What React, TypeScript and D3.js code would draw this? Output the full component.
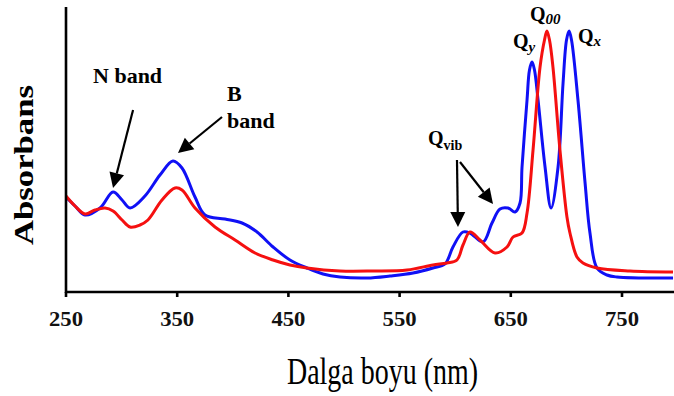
import React from "react";
import * as d3 from "d3";

// wavelength (nm), absorbance (a.u.)
const blueNm = [250, 258.1, 267.1, 280.6, 292.3, 300.4, 307.6, 321.0, 334.5, 346.2, 354.3, 366.0, 375.0, 393.0, 408.3, 421.8, 436.2, 451.4, 466.7, 481.1, 496.4, 520.7, 541.4, 562.1, 580.0, 590.8, 598.0, 607.0, 613.3, 625.0, 633.1, 640.3, 647.5, 653.8, 658.3, 660.1, 664.6, 666.8, 669.1, 671.3, 674.5, 680.8, 686.2, 692.5, 697.0, 700.1, 702.4, 704.6, 710.4, 716.8, 721.2, 727.5, 736.5, 745.5, 795.9];
const blueAbs = [0.380, 0.344, 0.308, 0.336, 0.400, 0.368, 0.336, 0.384, 0.468, 0.524, 0.496, 0.380, 0.308, 0.292, 0.276, 0.240, 0.180, 0.128, 0.096, 0.072, 0.060, 0.056, 0.064, 0.076, 0.096, 0.112, 0.180, 0.240, 0.236, 0.200, 0.276, 0.332, 0.336, 0.320, 0.356, 0.500, 0.768, 0.888, 0.920, 0.888, 0.768, 0.500, 0.336, 0.500, 0.836, 1.008, 1.044, 1.008, 0.768, 0.436, 0.236, 0.096, 0.068, 0.060, 0.056];

const redNm = [250, 258.1, 267.1, 276.1, 285.1, 292.3, 300.4, 307.6, 316.5, 323.7, 336.3, 348.0, 354.3, 366.0, 384.0, 402.0, 420.0, 436.2, 451.4, 466.7, 496.4, 526.1, 556.7, 580.0, 592.6, 601.6, 607.0, 613.3, 622.3, 635.8, 646.6, 652.0, 660.1, 664.6, 670.0, 676.3, 680.3, 682.5, 684.8, 687.9, 694.2, 700.5, 703.2, 709.5, 714.9, 727.5, 757.2, 795.9];
const redAbs = [0.384, 0.344, 0.312, 0.328, 0.336, 0.324, 0.288, 0.260, 0.268, 0.288, 0.368, 0.416, 0.408, 0.336, 0.260, 0.208, 0.156, 0.128, 0.108, 0.096, 0.084, 0.084, 0.088, 0.108, 0.116, 0.128, 0.188, 0.240, 0.208, 0.156, 0.180, 0.220, 0.236, 0.316, 0.568, 0.900, 1.008, 1.044, 1.008, 0.900, 0.568, 0.300, 0.236, 0.140, 0.116, 0.096, 0.084, 0.080];

const xTicks = [250, 350, 450, 550, 650, 750];

// annotation arrows: [x1, y1, x2, y2] in data units (tail -> head)
const arrows = [
  [310.3, 0.728, 292.3, 0.416],
  [390.3, 0.70, 350.7, 0.556],
  [601.6, 0.528, 602.5, 0.26],
  [604.3, 0.52, 634.0, 0.352],
];

const W = 674;
const H = 396;

export default function App() {
  const x = d3.scaleLinear().domain([250, 750]).range([66, 622]);
  const y = d3.scaleLinear().domain([0, 1.136]).range([292, 8]);

  const line = d3
    .line<[number, number]>()
    .x((d) => x(d[0]))
    .y((d) => y(d[1]))
    .curve(d3.curveCatmullRom.alpha(0.5));

  const blue = blueNm.map((n, i) => [n, blueAbs[i]] as [number, number]);
  const red = redNm.map((n, i) => [n, redAbs[i]] as [number, number]);

  const serif = "'Liberation Serif', 'Times New Roman', serif";

  const arrowEls = arrows.map((a, i) => {
    const x1 = x(a[0]), y1 = y(a[1]), x2 = x(a[2]), y2 = y(a[3]);
    const ang = Math.atan2(y2 - y1, x2 - x1);
    const hl = 15, hw = 7.5;
    const bx = x2 - hl * Math.cos(ang), by = y2 - hl * Math.sin(ang);
    const px = -Math.sin(ang) * hw, py = Math.cos(ang) * hw;
    return (
      <g key={i}>
        <line x1={x1} y1={y1} x2={bx} y2={by} stroke="#000" strokeWidth={2.2} />
        <polygon points={`${x2},${y2} ${bx + px},${by + py} ${bx - px},${by - py}`} fill="#000" />
      </g>
    );
  });

  return (
    <svg width={W} height={H} style={{ position: "absolute", left: 0, top: 0, background: "#fff" }} fontFamily={serif}>
      <rect width={W} height={H} fill="#fff" />
      <path d={line(blue) || ""} fill="none" stroke="#1010f5" strokeWidth={3} strokeLinejoin="round" />
      <path d={line(red) || ""} fill="none" stroke="#f51010" strokeWidth={3} strokeLinejoin="round" />

      {/* axes */}
      <line x1={x(250)} y1={7} x2={x(250)} y2={293} stroke="#000" strokeWidth={2.6} />
      <line x1={x(250) - 1} y1={292} x2={W} y2={292} stroke="#000" strokeWidth={2.6} />
      {xTicks.map((t) => (
        <g key={t}>
          <line x1={x(t)} y1={292} x2={x(t)} y2={297} stroke="#000" strokeWidth={2.6} />
          <text
            x={x(t)}
            y={326}
            textAnchor="middle"
            fontSize={21}
            fontWeight="bold"
            fill="#111"
            textLength={34}
            lengthAdjust="spacingAndGlyphs"
          >
            {t}
          </text>
        </g>
      ))}

      <text
        transform={`translate(33,165) rotate(-90)`}
        textAnchor="middle"
        fontSize={27}
        fontWeight="bold"
        textLength={160}
        lengthAdjust="spacingAndGlyphs"
        fill="#000"
      >
        Absorbans
      </text>
      <text x={287} y={384} fontSize={37} textLength={191} lengthAdjust="spacingAndGlyphs" fill="#000">
        Dalga boyu (nm)
      </text>

      {/* annotations */}
      {arrowEls}
      <text x={x(274.3)} y={y(0.836)} fontSize={22} fontWeight="bold">N band</text>
      <text x={x(394.8)} y={y(0.764)} fontSize={22} fontWeight="bold">B</text>
      <text x={x(394.8)} y={y(0.656)} fontSize={22} fontWeight="bold">band</text>
      <text x={x(575.5)} y={y(0.588)} fontSize={20} fontWeight="bold">
        Q<tspan fontSize={14} dy={5}>vib</tspan>
      </text>
      <text x={x(652.0)} y={y(0.976)} fontSize={20} fontWeight="bold">
        Q<tspan fontSize={15} fontStyle="italic" dy={4}>y</tspan>
      </text>
      <text x={x(667.3)} y={y(1.084)} fontSize={20} fontWeight="bold">
        Q<tspan fontSize={15} fontStyle="italic" dy={3}>00</tspan>
      </text>
      <text x={x(710.4)} y={y(0.996)} fontSize={20} fontWeight="bold">
        Q<tspan fontSize={15} fontStyle="italic" dy={3}>x</tspan>
      </text>
    </svg>
  );
}
